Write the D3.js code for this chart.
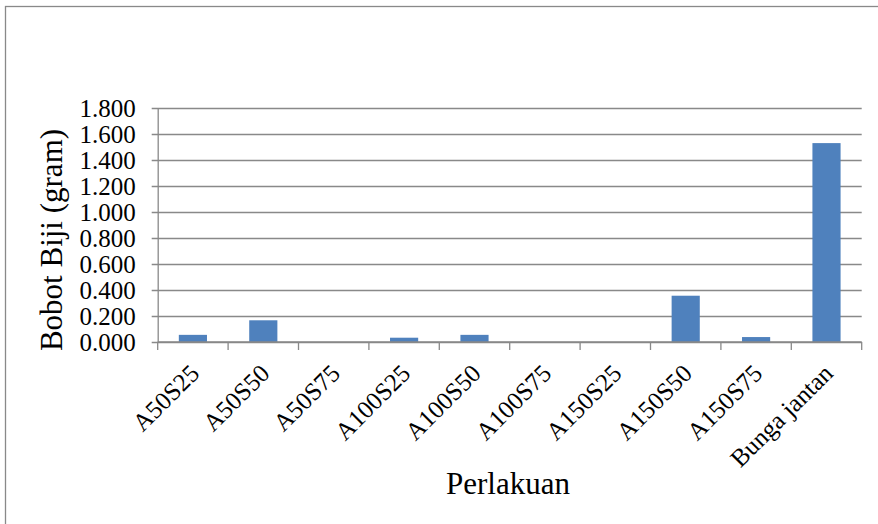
<!DOCTYPE html>
<html>
<head>
<meta charset="utf-8">
<script src="https://cdn.jsdelivr.net/npm/d3@7"></script>
<style>
  html, body { margin: 0; padding: 0; background: #fff; }
  svg { display: block; }
</style>
</head>
<body>
<svg id="chart" width="878" height="524"></svg>
<script>
// Seed weight per treatment (gram)
const categories = ["A50S25", "A50S50", "A50S75", "A100S25", "A100S50", "A100S75",
                    "A150S25", "A150S50", "A150S75", "Bunga jantan"];
const values = [0.055, 0.167, 0, 0.033, 0.055, 0, 0, 0.356, 0.038, 1.530];
const yTicks = [0, 0.2, 0.4, 0.6, 0.8, 1.0, 1.2, 1.4, 1.6, 1.8];
const yTitle = "Bobot Biji (gram)";
const xTitle = "Perlakuan";

const FONT = "'Liberation Serif', 'Times New Roman', serif";
const svg = d3.select("#chart").style("font-family", FONT);
const W = 878, H = 524;
const plot = { left: 157.7, right: 861.7, top: 108, bottom: 342 };
const gridColor = "#898989";

// outer chart border (runs off the right and bottom edges)
svg.append("rect")
  .attr("x", 5.5).attr("y", 6.5)
  .attr("width", W + 10).attr("height", H + 10)
  .attr("fill", "none").attr("stroke", gridColor).attr("stroke-width", 1.3);

const x = d3.scaleBand().domain(categories)
  .range([plot.left, plot.right]).paddingInner(0.6).paddingOuter(0.3);
const xb = d3.scaleBand().domain(categories).range([plot.left, plot.right]);
const y = d3.scaleLinear().domain([0, 1.8]).range([plot.bottom, plot.top]);

// horizontal gridlines + left tick marks
const yAxis = d3.axisLeft(y).tickValues(yTicks)
  .tickSize(-(plot.right - plot.left)).tickSizeOuter(0).tickPadding(22)
  .tickFormat(d3.format(".3f"));
const gy = svg.append("g").attr("transform", `translate(${plot.left},0)`).call(yAxis)
  .attr("font-family", null).attr("font-size", null);
gy.select(".domain").attr("stroke", gridColor).attr("stroke-width", 1.3);
gy.selectAll(".tick line").attr("stroke", gridColor).attr("stroke-width", 1.5)
  .attr("x1", -6);
gy.selectAll(".tick text")
  .style("font-family", FONT).style("font-size", "25px")
  .attr("fill", "#000").attr("dy", "0.34em");

// bars
svg.append("g").selectAll("rect")
  .data(categories.map((c, i) => ({ c, v: values[i] })))
  .join("rect")
  .attr("x", d => x(d.c))
  .attr("width", x.bandwidth())
  .attr("y", d => y(d.v))
  .attr("height", d => y(0) - y(d.v))
  .attr("fill", "#4F81BD");

// category axis: line, boundary ticks, rotated labels
svg.append("line")
  .attr("x1", plot.left).attr("x2", plot.right)
  .attr("y1", y(0)).attr("y2", y(0))
  .attr("stroke", gridColor).attr("stroke-width", 1.5);
const bounds = categories.map(c => xb(c)).concat([plot.right]);
svg.append("g").selectAll("line").data(bounds).join("line")
  .attr("x1", d => d).attr("x2", d => d)
  .attr("y1", y(0)).attr("y2", y(0) + 8)
  .attr("stroke", gridColor).attr("stroke-width", 1.3);
svg.append("g").selectAll("text").data(categories).join("text")
  .attr("transform", d => `translate(${xb(d) + xb.bandwidth() / 2 + 2},${y(0) + 27}) rotate(-45)`)
  .attr("text-anchor", "end")
  .attr("dy", "0.33em")
  .style("font-family", FONT)
  .style("font-size", "25px")
  .text(d => d);

// axis titles
svg.append("text")
  .attr("transform", `translate(62,240) rotate(-90)`)
  .attr("text-anchor", "middle")
  .style("font-family", FONT)
  .style("font-size", "31px")
  .text(yTitle);
svg.append("text")
  .attr("x", 508).attr("y", 494)
  .attr("text-anchor", "middle")
  .style("font-family", FONT)
  .style("font-size", "31px")
  .text(xTitle);
</script>
</body>
</html>
